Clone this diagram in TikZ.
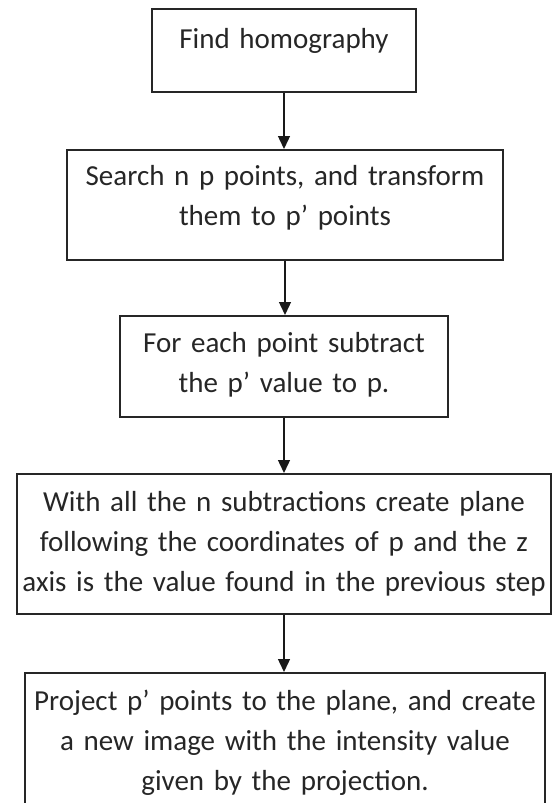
\documentclass[tikz,border=0pt]{standalone}
\usepackage{fontspec}
\setmainfont{Carlito}[WordSpace=0.8]
\usetikzlibrary{arrows.meta}
\begin{document}
\begin{tikzpicture}[x=1pt,y=1pt]
\tikzset{stepbox/.style={draw=black!85, line width=1.6pt, anchor=north, inner sep=0pt,
	align=center, text=black!85, font=\fontsize{29}{40}\selectfont},
	flowarrow/.style={draw=black!90, line width=1.4pt, -{Triangle[length=13pt,width=12pt]}}}
\useasboundingbox (0,0) rectangle (558,-803);
\clip (0,0) rectangle (558,-803);
\node[stepbox, text width=264pt, text height=40pt, text depth=43pt] (homography) at (284,-8)
	{Find homography};
\node[stepbox, text width=436pt, text height=36pt, text depth=74pt] (search) at (285,-149)
	{Search n p points, and transform\\them to p’ points};
\node[stepbox, text width=328pt, text height=37pt, text depth=64pt] (subtract) at (284,-315)
	{For each point subtract\\the p’ value to p.};
\node[stepbox, text width=534pt, text height=38pt, text depth=102pt] (plane) at (284,-473)
	{With all the n subtractions create plane\\following the coordinates of p and the z\\axis is the value found in the previous step};
\node[stepbox, text width=520pt, text height=38pt, text depth=110pt] (project) at (285,-672)
	{Project p’ points to the plane, and create\\a new image with the intensity value\\given by the projection.};
\draw[flowarrow] (homography.south) -- (homography.south |- search.north);
\draw[flowarrow] (search.south) -- (search.south |- subtract.north);
\draw[flowarrow] (subtract.south) -- (subtract.south |- plane.north);
\draw[flowarrow] (plane.south) -- (plane.south |- project.north);
\end{tikzpicture}
\end{document}
